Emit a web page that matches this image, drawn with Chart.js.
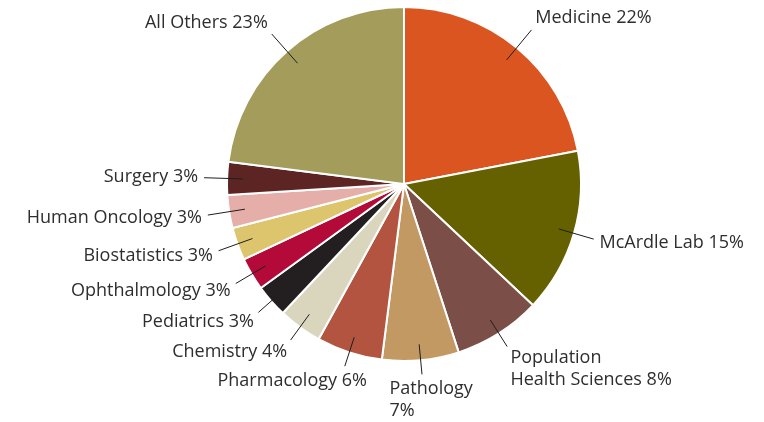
<!DOCTYPE html>
<html>
<head>
<meta charset="utf-8">
<script src="https://cdn.jsdelivr.net/npm/chart.js@4"></script>
<style>
  html, body { margin: 0; padding: 0; background: #fff; }
  #wrap { width: 764px; height: 422px; }
</style>
</head>
<body>
<div id="wrap"><canvas id="pieChart"></canvas></div>
<script>
const departments = [
  "Medicine", "McArdle Lab", "Population Health Sciences", "Pathology",
  "Pharmacology", "Chemistry", "Pediatrics", "Ophthalmology",
  "Biostatistics", "Human Oncology", "Surgery", "All Others"
];
const shares = [22, 15, 8, 7, 6, 4, 3, 3, 3, 3, 3, 23];
// text shown next to each slice (arrays = several lines)
const labelLines = [
  ["Medicine 22%"], ["McArdle Lab 15%"], ["Population", "Health Sciences 8%"],
  ["Pathology", "7%"], ["Pharmacology 6%"], ["Chemistry 4%"], ["Pediatrics 3%"],
  ["Ophthalmology 3%"], ["Biostatistics 3%"], ["Human Oncology 3%"],
  ["Surgery 3%"], ["All Others 23%"]
];
const sliceColors = [
  "#DA5520", "#656000", "#7B4F47", "#C39963", "#B25440", "#DAD6BE",
  "#231F20", "#B30A3A", "#DDC56E", "#E6AEA9", "#5C2524", "#A39C5A"
];

const FONT = '18px "Open Sans"';
const LINE_H = 22;

// leader lines + labels outside the pie
const leaderLabels = {
  id: "leaderLabels",
  afterDatasetsDraw(chart) {
    const ctx = chart.ctx;
    const arcs = chart.getDatasetMeta(0).data;
    ctx.save();
    ctx.font = FONT;
    arcs.forEach((arc, i) => {
      const a = (arc.startAngle + arc.endAngle) / 2;
      const ux = Math.cos(a), uy = Math.sin(a);
      const r = arc.outerRadius;
      const outer = 1.13 - 0.05 * Math.max(0, uy);
      const x1 = arc.x + ux * r * 0.91, y1 = arc.y + uy * r * 0.91;
      const x2 = arc.x + ux * r * outer, y2 = arc.y + uy * r * outer;
      ctx.strokeStyle = "#1e1e1e";
      ctx.lineWidth = 1;
      ctx.beginPath();
      ctx.moveTo(x1, y1);
      ctx.lineTo(x2, y2);
      ctx.stroke();

      const lines = labelLines[i];
      const w = Math.max(...lines.map(t => ctx.measureText(t).width));
      const h = lines.length * LINE_H;
      const ax = x2 + ux * 6, ay = y2 + uy * 4;
      const hx = Math.sign(ux) * Math.min(1, Math.abs(ux) * 2.2);
      const left = ax - w * (1 - hx) / 2;
      const top = ay - h * (1 - uy) / 2;
      ctx.fillStyle = "#2e2e2e";
      ctx.textAlign = "left";
      ctx.textBaseline = "middle";
      lines.forEach((t, k) => ctx.fillText(t, left, top + LINE_H * (k + 0.5)));
    });
    ctx.restore();
  }
};

new Chart(document.getElementById("pieChart"), {
  type: "pie",
  data: {
    labels: departments,
    datasets: [{
      data: shares,
      backgroundColor: sliceColors,
      borderColor: "#ffffff",
      borderWidth: 2
    }]
  },
  options: {
    responsive: true,
    maintainAspectRatio: false,
    animation: false,
    layout: { padding: { top: 5, bottom: 59, left: 226, right: 182 } },
    plugins: {
      legend: { display: false },
      tooltip: { enabled: false }
    }
  },
  plugins: [leaderLabels]
});
</script>
</body>
</html>
